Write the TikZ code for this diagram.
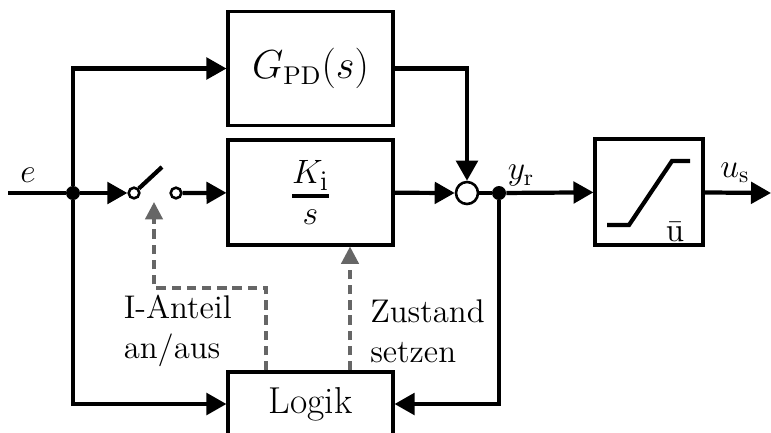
\documentclass[tikz,border=0pt]{standalone}
\usepackage{amsmath}
\usetikzlibrary{arrows.meta}

\tikzset{
  block/.style={draw, line width=1.3pt, fill=white, minimum width=2.475cm, font=\fontsize{16}{19}\selectfont},
  sig/.style={line width=1.8pt, -{Triangle[length=3mm,width=3.2mm]}},
  wire/.style={line width=1.8pt},
  ctrl/.style={line width=1.4pt, gray!80!black, dash pattern=on 4pt off 2.5pt,
               -{Triangle[length=2.6mm,width=2.6mm]}},
  dot/.style={circle, fill, inner sep=0pt, minimum size=2.1mm},
  contact/.style={circle, draw, line width=1.1pt, fill=white, inner sep=0pt, minimum size=1.6mm},
}

\begin{document}
\begin{tikzpicture}[x=0.015cm, y=-0.015cm, font=\fontsize{14}{17}\selectfont]
        \useasboundingbox (0,0) rectangle (771,432);

        % Blocks
        \node[block, minimum height=1.7cm] (gpd) at (310.5,68.5) {$G_{\mathrm{PD}}(s)$};
        \node[block, minimum height=1.575cm, font=\fontsize{20.74}{24}\selectfont] (ki) at (310.5,192.5)
            {$\genfrac{}{}{1.6pt}{1}{K_\mathrm{i}}{s}$};
        \node[block, minimum height=0.96cm] (logik) at (310.5,404) {Logik};
        \node[block, minimum width=1.62cm, minimum height=1.59cm] (sat) at (649,192) {};
        \node[circle, draw, line width=1.1pt, inner sep=0pt, minimum size=0.33cm] (sum) at (467,193) {};

        % Junctions and switch contacts
        \coordinate (in) at (8,193);
        \coordinate (out) at (771,193);
        \node[dot] (je) at (73,193) {};
        \node[dot] (jy) at (499,193) {};
        \node[contact] (swa) at (134,193) {};
        \node[contact] (swb) at (176,193) {};
        \coordinate (lever) at (162,167);

        % Forward path
        \draw[wire] (in) -- (je);
        \draw[sig] (je) -- (swa);
        \draw[wire] (swa) -- (lever); % switch lever
        \draw[sig] (swb) -- (ki);
        \draw[sig] (je) |- (gpd);
        \draw[sig] (gpd) -| (sum);
        \draw[sig] (ki) -- (sum);
        \draw[wire] (sum) -- (jy);
        \draw[sig] (jy) -- (sat);
        \draw[sig] (sat) -- (out);

        % Paths into the logic block
        \draw[sig] (je) |- (logik);
        \draw[sig] (jy) |- (logik);

        % Saturation curve
        \draw[line width=1.8pt] (607,225) -- (629,225) -- (672,161) -- (690,161);

        % Control signals
        \draw[ctrl] ([xshift=-44.5*0.015cm]logik.north) |- (154,288) -- (154,202);
        \draw[ctrl] ([xshift=39.5*0.015cm]logik.north) -- ([xshift=39.5*0.015cm]ki.south);

        % Labels
        \node (le) at (28,175) {$e$};
        \node (ly) at (521,176) {$y_\mathrm{r}$};
        \node (lu) at (735,173) {$u_\mathrm{s}$};
        \node (lbar) at (675,232) {$\bar{\mathrm{u}}$};
        \node[align=left, anchor=east] (lon) at (240,331) {I-Anteil\\an/aus};
        \node[align=left, anchor=west] (lset) at (362,331) {Zustand\\setzen};
\end{tikzpicture}
\end{document}
